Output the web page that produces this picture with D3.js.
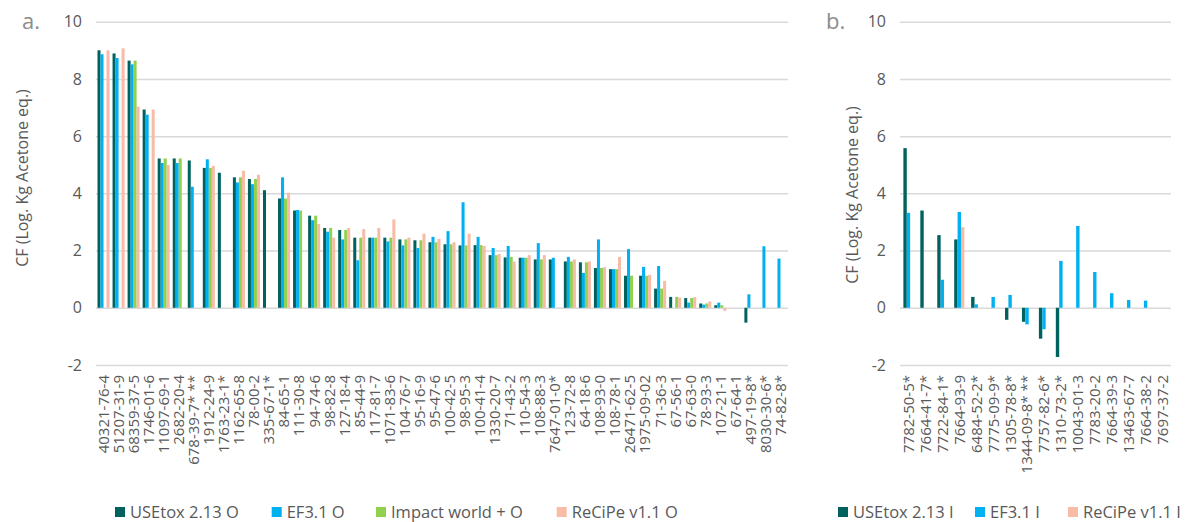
<!DOCTYPE html>
<html>
<head>
<meta charset="utf-8">
<script src="https://cdn.jsdelivr.net/npm/d3@7"></script>
<style>
body { margin: 0; background: #fff; }
svg text { font-family: "Open Sans", sans-serif; fill: #595959; }
</style>
</head>
<body>
<div class="chartDiv"></div>
<script>
// panel a - organic substances
var catsA = ["40321-76-4", "51207-31-9", "68359-37-5", "1746-01-6", "11097-69-1", "2682-20-4", "678-39-7* **",
	"1912-24-9", "1763-23-1*", "1162-65-8", "78-00-2", "335-67-1*", "84-65-1", "111-30-8", "94-74-6", "98-82-8",
	"127-18-4", "85-44-9", "117-81-7", "1071-83-6", "104-76-7", "95-16-9", "95-47-6", "100-42-5", "98-95-3",
	"100-41-4", "1330-20-7", "71-43-2", "110-54-3", "108-88-3", "7647-01-0*", "123-72-8", "64-18-6", "108-93-0",
	"108-78-1", "26471-62-5", "1975-09-02", "71-36-3", "67-56-1", "67-63-0", "78-93-3", "107-21-1", "67-64-1",
	"497-19-8*", "8030-30-6*", "74-82-8*"];
var usetoxO = [9.0, 8.89, 8.64, 6.93, 5.22, 5.22, 5.15, 4.89, 4.72, 4.56, 4.5, 4.11, 3.82, 3.4, 3.22, 2.79,
	2.72, 2.45, 2.45, 2.45, 2.39, 2.36, 2.29, 2.22, 2.18, 2.19, 1.84, 1.76, 1.75, 1.69, 1.69, 1.62, 1.59, 1.39,
	1.35, 1.12, 1.12, 0.67, 0.38, 0.34, 0.15, 0.09, null, -0.52, null, null];
var ef31O = [8.86, 8.73, 8.51, 6.75, 5.06, 5.06, 4.23, 5.19, null, 4.38, 4.32, null, 4.56, 3.42, 3.06, 2.66,
	2.39, 1.66, 2.45, 2.32, 2.18, 2.09, 2.48, 2.68, 3.69, 2.48, 2.09, 2.16, 1.75, 2.26, 1.75, 1.78, 1.22, 2.39,
	1.35, 2.05, 1.43, 1.46, null, 0.18, 0.11, 0.18, null, 0.47, 2.15, 1.72];
var impactO = [null, null, 8.64, null, 5.22, 5.22, null, 4.89, null, 4.56, 4.5, null, 3.82, 3.4, 3.22, 2.79,
	2.72, 2.45, 2.45, 2.45, 2.39, 2.36, 2.29, 2.22, 2.18, 2.19, 1.84, 1.78, 1.75, 1.69, null, 1.62, 1.59, 1.39,
	1.35, 1.12, 1.12, 0.67, 0.38, 0.34, 0.15, 0.09, null, null, null, null];
var recipeO = [9.0, 9.07, 7.03, 6.93, 4.99, null, null, 4.96, null, 4.79, 4.65, null, 4.02, null, 2.93, 2.45,
	2.79, 2.75, 2.79, 3.09, 2.45, 2.59, 2.41, 2.29, 2.59, 2.16, 1.88, 1.62, 1.84, 1.84, null, 1.69, 1.62, 1.42,
	1.78, null, 1.15, 0.94, 0.36, 0.38, 0.22, -0.11, null, null, null, null];

// panel b - inorganic substances
var catsB = ["7782-50-5*", "7664-41-7*", "7722-84-1*", "7664-93-9", "6484-52-2*", "7775-09-9*", "1305-78-8*",
	"1344-09-8* **", "7757-82-6*", "1310-73-2*", "10043-01-3", "7783-20-2", "7664-39-3", "13463-67-7",
	"7664-38-2", "7697-37-2"];
var usetoxI = [5.58, 3.4, 2.54, 2.39, 0.38, null, -0.42, -0.49, -1.08, -1.72, null, null, null, null, null, null];
var ef31I = [3.32, null, 0.98, 3.35, 0.12, 0.38, 0.45, -0.58, -0.75, 1.64, 2.86, 1.25, 0.51, 0.27, 0.25, null];
var recipeI = [null, null, null, 2.82, null, null, null, null, null, null, null, null, null, null, null, null];

var yTicks = [-2, 0, 2, 4, 6, 8, 10];

var colors = {usetox: "#00625e", ef: "#00b0f0", impact: "#92d050", recipe: "#f7bba6"};

var svg = d3.select(".chartDiv").append("svg")
	.attr("width", 1185)
	.attr("height", 522);

function panel(opt)
{
	var g = svg.append("g");

	var y = d3.scaleLinear().domain([-2, 10]).range([365, 21.7]);

	var x = d3.scaleBand()
		.domain(opt.cats)
		.range([opt.x0, opt.x1])
		.paddingInner(opt.pad)
		.paddingOuter(opt.pad / 2);

	var xSub = d3.scaleBand()
		.domain(opt.series.map(function (s) { return s.key; }))
		.range([0, x.bandwidth()]);

	// gridlines and tick labels (plain hyphen for negatives, like Excel)
	var yAxis = g.append("g")
		.attr("transform", "translate(" + opt.x0 + ",0)")
		.call(d3.axisLeft(y).tickValues(yTicks).tickFormat(String)
			.tickSize(-(opt.x1 - opt.x0)).tickPadding(14));
	yAxis.select(".domain").remove();
	yAxis.selectAll("line").attr("stroke", "#d9d9d9").attr("stroke-width", 1.5);
	yAxis.selectAll("text")
		.style("font-size", "16px")
		.style("font-family", "'Open Sans', sans-serif")
		.attr("fill", "#595959");

	// bars
	opt.series.forEach(function (s) {
		var rows = opt.cats.map(function (c, i) { return {cat: c, v: s.values[i]}; })
			.filter(function (d) { return d.v != null; });
		g.append("g").selectAll("rect")
			.data(rows)
			.enter().append("rect")
			.attr("x", function (d) { return x(d.cat) + xSub(s.key); })
			.attr("width", xSub.bandwidth())
			.attr("y", function (d) { return y(Math.max(0, d.v)); })
			.attr("height", function (d) { return Math.abs(y(d.v) - y(0)); })
			.attr("fill", s.color);
	});

	// category labels
	var xAxis = g.append("g")
		.attr("transform", "translate(0," + y(-2) + ")")
		.call(d3.axisBottom(x).tickSize(0));
	xAxis.select(".domain").remove();
	xAxis.selectAll("text")
		.attr("transform", "rotate(-90)")
		.attr("x", -10)
		.attr("y", 0)
		.attr("dy", "0.36em")
		.attr("text-anchor", "end")
		.style("font-size", "15px")
		.style("font-family", "'Open Sans', sans-serif")
		.attr("fill", "#595959");

	// axis title
	g.append("text")
		.attr("transform", "translate(" + opt.titleX + "," + opt.titleY + ") rotate(-90)")
		.attr("text-anchor", "middle")
		.attr("dy", "0.35em")
		.style("font-size", "16px")
		.text("CF (Log. Kg Acetone eq.)");

	// panel letter
	g.append("text")
		.attr("x", opt.letterX)
		.attr("y", 29)
		.style("font-size", "22px")
		.style("fill", "#8c8c8c")
		.text(opt.letter);

	// legend
	var leg = g.selectAll(".legend")
		.data(opt.series)
		.enter().append("g")
		.attr("class", "legend")
		.attr("transform", function (d, i) { return "translate(" + opt.legendX[i] + ",507)"; });
	leg.append("rect").attr("width", 10).attr("height", 10).attr("fill", function (d) { return d.color; });
	leg.append("text")
		.attr("x", 15)
		.attr("y", 5)
		.attr("dy", "0.35em")
		.style("font-size", "16.5px")
		.text(function (d) { return d.name; });
}

panel({
	cats: catsA, x0: 96, x1: 788, pad: 0.2,
	series: [
		{key: "usetox", name: "USEtox 2.13 O", values: usetoxO, color: colors.usetox},
		{key: "ef", name: "EF3.1 O", values: ef31O, color: colors.ef},
		{key: "impact", name: "Impact world + O", values: impactO, color: colors.impact},
		{key: "recipe", name: "ReCiPe v1.1 O", values: recipeO, color: colors.recipe}
	],
	legendX: [115, 271.7, 376, 556.7],
	titleX: 22, titleY: 178, letter: "a.", letterX: 22
});

panel({
	cats: catsB, x0: 900, x1: 1171, pad: 0.4,
	series: [
		{key: "usetox", name: "USEtox 2.13 I", values: usetoxI, color: colors.usetox},
		{key: "ef", name: "EF3.1 I", values: ef31I, color: colors.ef},
		{key: "recipe", name: "ReCiPe v1.1 I", values: recipeI, color: colors.recipe}
	],
	legendX: [838, 975, 1068],
	titleX: 852, titleY: 195, letter: "b.", letterX: 826
});
</script>
</body>
</html>
